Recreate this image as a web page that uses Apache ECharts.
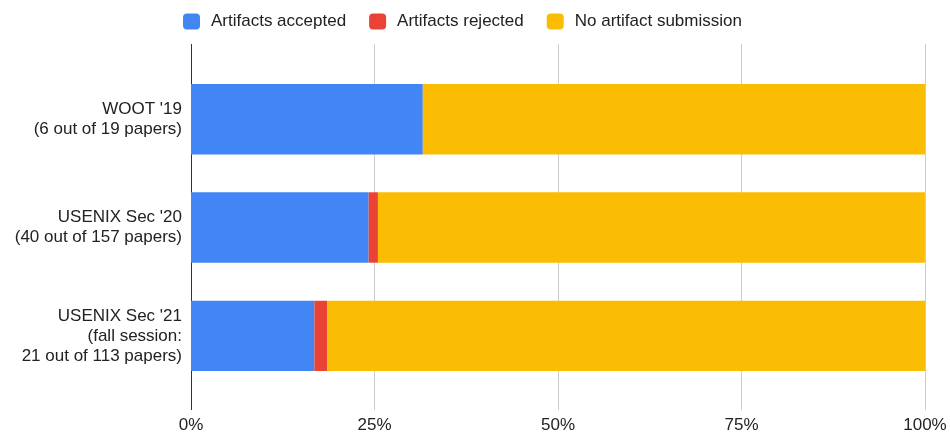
<!DOCTYPE html>
<html>
<head>
<meta charset="utf-8">
<script src="https://cdn.jsdelivr.net/npm/echarts@6/dist/echarts.min.js"></script>
<style>html,body{margin:0;padding:0;background:#fff}#c{width:950px;height:436px}</style>
</head>
<body>
<div id="c"></div>
<script>
const categories = ["WOOT '19\n(6 out of 19 papers)", "USENIX Sec '20\n(40 out of 157 papers)", "USENIX Sec '21\n(fall session:\n21 out of 113 papers)"];
const accepted = [31.58, 24.20, 16.81];
const rejected = [0, 1.27, 1.77];
const noSubmission = [68.42, 74.52, 81.42];
const tickValues = [0, 25, 50, 75, 100];

const font = "'Liberation Sans', Arial, sans-serif";
const chart = echarts.init(document.getElementById('c'));
chart.setOption({
  animation: false,
  textStyle: { fontFamily: font },
  legend: {
    top: 8, left: 178, itemWidth: 17, itemHeight: 16, itemGap: 23,
    icon: 'roundRect',
    textStyle: { fontSize: 17, color: '#222', fontFamily: font, padding: [0, 0, 0, 6] },
    data: ['Artifacts accepted', 'Artifacts rejected', 'No artifact submission']
  },
  grid: [
    { left: 191, right: 25, top: 44, bottom: 26 },
    { left: 191, right: 25, top: 65, bottom: 46 }
  ],
  xAxis: [
    { gridIndex: 0, type: 'value', min: tickValues[0], max: tickValues[tickValues.length-1], interval: 25,
      axisLine: { show: false }, axisTick: { show: false },
      axisLabel: { formatter: '{value}%', fontSize: 17, color: '#222', margin: 7, fontFamily: font },
      splitLine: { lineStyle: { color: ['#333', '#ccc', '#ccc', '#ccc', '#ccc'], width: 1 } } },
    { gridIndex: 1, type: 'value', min: 0, max: 100, show: false }
  ],
  yAxis: [
    { gridIndex: 0, type: 'value', show: false },
    { gridIndex: 1, type: 'category', data: categories, inverse: true,
      axisLine: { show: false }, axisTick: { show: false }, splitLine: { show: false },
      axisLabel: { fontSize: 17, color: '#222', lineHeight: 20, margin: 9, align: 'right', fontFamily: font } }
  ],
  series: [
    { name: 'Artifacts accepted', type: 'bar', stack: 's', xAxisIndex: 1, yAxisIndex: 1, data: accepted,
      itemStyle: { color: '#4285F4' }, barCategoryGap: '35%' },
    { name: 'Artifacts rejected', type: 'bar', stack: 's', xAxisIndex: 1, yAxisIndex: 1, data: rejected,
      itemStyle: { color: '#EA4335' }, barCategoryGap: '35%' },
    { name: 'No artifact submission', type: 'bar', stack: 's', xAxisIndex: 1, yAxisIndex: 1, data: noSubmission,
      itemStyle: { color: '#FBBC04' }, barCategoryGap: '35%' }
  ]
});
</script>
</body>
</html>
